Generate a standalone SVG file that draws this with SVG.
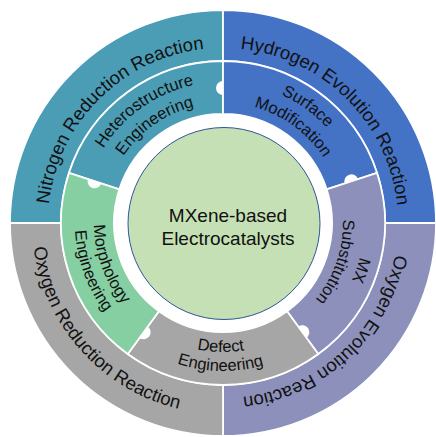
<svg xmlns="http://www.w3.org/2000/svg" xmlns:xlink="http://www.w3.org/1999/xlink" width="436" height="437" viewBox="0 0 436 437">
<style>
.seg{stroke:#ffffff;stroke-width:1.8;stroke-linejoin:miter}
.t{font-family:"Liberation Sans",Arial,sans-serif;fill:#111111}
.outer{font-size:18.5px}
.mid{font-size:16.5px}
.center{font-size:19px}
.bump{fill:#ffffff}
</style>
<defs>
<path id="pNRR" d="M53.96,268.29 A175,175 0 0 1 268.29,53.96"/>
<path id="pHER" d="M177.71,53.96 A175,175 0 0 1 392.04,268.29"/>
<path id="pOER" d="M393.51,183.63 A175,175 0 0 1 171.84,390.35"/>
<path id="pORR" d="M41.35,163.98 A191,191 0 0 0 262.71,409.83"/>
<path id="pHet1" d="M82.54,210.71 A141,141 0 0 1 259.49,86.80"/>
<path id="pHet2" d="M103.46,212.54 A120,120 0 0 1 254.06,107.09"/>
<path id="pSur1" d="M188.89,86.19 A141,141 0 0 1 363.66,213.16"/>
<path id="pSur2" d="M193.97,106.56 A120,120 0 0 1 342.71,214.63"/>
<path id="pMX1" d="M343.86,150.38 A141,141 0 0 1 273.53,354.63"/>
<path id="pMX2" d="M325.86,161.20 A120,120 0 0 1 266.00,335.03"/>
<path id="pDef1" d="M122.75,304.18 A129,129 0 0 0 320.36,307.63"/>
<path id="pDef2" d="M107.98,316.14 A148,148 0 0 0 334.70,320.10"/>
<path id="pMor1" d="M111.28,158.5 A129,129 0 0 0 178.88,344.22"/>
<path id="pMor2" d="M94.83,149 A148,148 0 0 0 172.38,362.07"/>
<path id="bumpShape" d="M-7,0 A7,7 0 0 1 7,0 Z"/>
</defs>
<rect width="436" height="437" fill="#ffffff"/>

<g id="nrr">
<path class="seg" fill="#4a9db5" d="M10,223 A213,213 0 0 1 223,10 L223,61 A162,162 0 0 0 61,223 Z"/>
<text class="t outer"><textPath xlink:href="#pNRR" href="#pNRR" startOffset="50%" text-anchor="middle">Nitrogen Reduction Reaction</textPath></text>
</g>
<g id="her">
<path class="seg" fill="#4472c4" d="M223,10 A213,213 0 0 1 436,223 L385,223 A162,162 0 0 0 223,61 Z"/>
<text class="t outer"><textPath xlink:href="#pHER" href="#pHER" startOffset="50%" text-anchor="middle">Hydrogen Evolution Reaction</textPath></text>
</g>
<g id="oer">
<path class="seg" fill="#8c90ba" d="M436,223 A213,213 0 0 1 223,436 L223,385 A162,162 0 0 0 385,223 Z"/>
<text class="t outer"><textPath xlink:href="#pOER" href="#pOER" startOffset="50%" text-anchor="middle">Oxygen Evolution Reaction</textPath></text>
</g>
<g id="orr">
<path class="seg" fill="#a6a6a6" d="M223,436 A213,213 0 0 1 10,223 L61,223 A162,162 0 0 0 223,385 Z"/>
<text class="t outer"><textPath xlink:href="#pORR" href="#pORR" startOffset="50%" text-anchor="middle">Oxygen Reduction Reaction</textPath></text>
</g>

<g id="heterostructure">
<path class="seg" fill="#4a9db5" d="M68.93,172.94 A162,162 0 0 1 223,61 L223,114 A109,109 0 0 0 119.33,189.32 Z"/>
<text class="t mid"><textPath xlink:href="#pHet1" href="#pHet1" startOffset="50%" text-anchor="middle">Heterostructure</textPath></text>
<text class="t mid"><textPath xlink:href="#pHet2" href="#pHet2" startOffset="50%" text-anchor="middle">Engineering</textPath></text>
</g>
<g id="surface">
<path class="seg" fill="#4472c4" d="M223,61 A162,162 0 0 1 377.07,172.94 L326.67,189.32 A109,109 0 0 0 223,114 Z"/>
<text class="t mid"><textPath xlink:href="#pSur1" href="#pSur1" startOffset="50%" text-anchor="middle">Surface</textPath></text>
<text class="t mid"><textPath xlink:href="#pSur2" href="#pSur2" startOffset="50%" text-anchor="middle">Modification</textPath></text>
</g>
<g id="mx">
<path class="seg" fill="#8c90ba" d="M377.07,172.94 A162,162 0 0 1 318.22,354.06 L287.07,311.18 A109,109 0 0 0 326.67,189.32 Z"/>
<text class="t mid"><textPath xlink:href="#pMX1" href="#pMX1" startOffset="50%" text-anchor="middle">MX</textPath></text>
<text class="t mid"><textPath xlink:href="#pMX2" href="#pMX2" startOffset="50%" text-anchor="middle">Substitution</textPath></text>
</g>
<g id="defect">
<path class="seg" fill="#a6a6a6" d="M318.22,354.06 A162,162 0 0 1 127.78,354.06 L158.93,311.18 A109,109 0 0 0 287.07,311.18 Z"/>
<text class="t mid"><textPath xlink:href="#pDef1" href="#pDef1" startOffset="50%" text-anchor="middle">Defect</textPath></text>
<text class="t mid"><textPath xlink:href="#pDef2" href="#pDef2" startOffset="50%" text-anchor="middle">Engineering</textPath></text>
</g>
<g id="morphology">
<path class="seg" fill="#85cfa3" d="M127.78,354.06 A162,162 0 0 1 68.93,172.94 L119.33,189.32 A109,109 0 0 0 158.93,311.18 Z"/>
<text class="t mid"><textPath xlink:href="#pMor1" href="#pMor1" startOffset="50%" text-anchor="middle">Morphology</textPath></text>
<text class="t mid"><textPath xlink:href="#pMor2" href="#pMor2" startOffset="50%" text-anchor="middle">Engineering</textPath></text>
</g>

<g id="connectors">
<use href="#bumpShape" xlink:href="#bumpShape" class="bump" transform="translate(223,223) rotate(-90) translate(135,0)"/>
<use href="#bumpShape" xlink:href="#bumpShape" class="bump" transform="translate(223,223) rotate(-18) translate(135,0)"/>
<use href="#bumpShape" xlink:href="#bumpShape" class="bump" transform="translate(223,223) rotate(54) translate(135,0)"/>
<use href="#bumpShape" xlink:href="#bumpShape" class="bump" transform="translate(223,223) rotate(126) translate(135,0)"/>
<use href="#bumpShape" xlink:href="#bumpShape" class="bump" transform="translate(223,223) rotate(198) translate(135,0)"/>
</g>

<g id="center">
<circle cx="224" cy="223.5" r="96" fill="#c5e0b4" stroke="#2f5597" stroke-width="1"/>
<text class="t center" x="228" y="222" text-anchor="middle">MXene-based</text>
<text class="t center" x="228" y="244.5" text-anchor="middle">Electrocatalysts</text>
</g>
</svg>
